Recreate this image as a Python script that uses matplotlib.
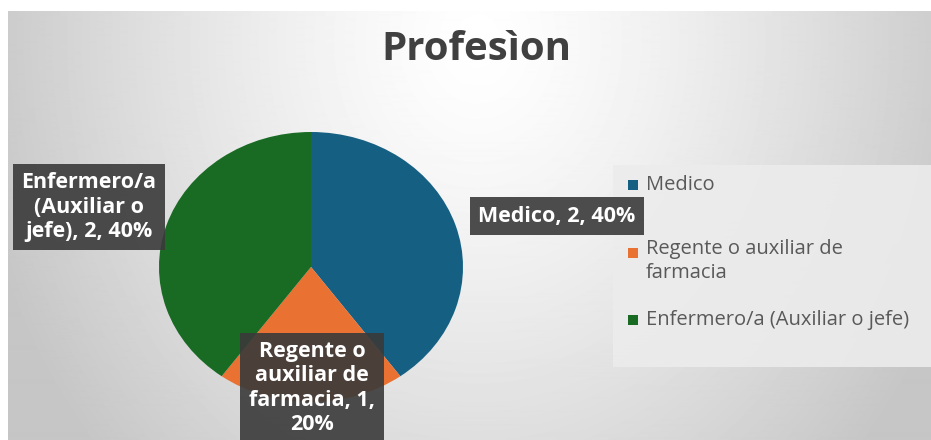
import textwrap
import numpy as np
import matplotlib.pyplot as plt

# data
categories = ['Medico', 'Regente o auxiliar de farmacia', 'Enfermero/a (Auxiliar o jefe)']
values = [2, 1, 2]
colors = ['#156082', '#E97132', '#196B24']
wrap_widths = [40, 12, 13]
title = 'Profesìon'

W, H = 931, 440
fig = plt.figure(figsize=(W / 100, H / 100), dpi=100)
fig.patch.set_facecolor('white')

# background gradient (chart area starts a few px in from top/left)
bg = fig.add_axes([8 / W, 0, 1 - 8 / W, 1 - 11 / H])
yy, xx = np.mgrid[0:429, 0:923]
r = np.sqrt(((xx - 470) / 470.0) ** 2 + ((yy - 30) / 560.0) ** 2)
shade = 1 - 0.2 * np.clip(r, 0, 1.1) ** 1.3
bg.imshow(shade, cmap='gray', vmin=0, vmax=1, aspect='auto', interpolation='bilinear')
bg.axis('off')

# pie (slightly stretched horizontally like the original)
ax = fig.add_axes([159 / W, (H - 402) / H, 304 / W, 270 / H])
wedges, _ = ax.pie(values, colors=colors, startangle=90, counterclock=False,
                   wedgeprops=dict(linewidth=0))
ax.set_aspect('auto')
ax.set_xlim(-1, 1)
ax.set_ylim(-1, 1)

total = sum(values)
label_pos = [(557, 216), (312, 388), (89, 207)]
for cat, v, w, (px, py) in zip(categories, values, wrap_widths, label_pos):
    txt = textwrap.fill(f'{cat}, {v}, {v / total * 100:.0f}%', w)
    fig.text(px / W, 1 - py / H, txt, ha='center', va='center', color='white',
             fontsize=15.5, fontweight='bold', family='Open Sans', linespacing=1.2,
             bbox=dict(boxstyle='square,pad=0.4', fc='#3a3a3a', ec='none', alpha=0.9),
             zorder=10)

# legend panel
leg_ax = fig.add_axes([613 / W, (H - 367) / H, (W - 613) / W, 202 / H])
leg_ax.set_facecolor('#ececec')
leg_ax.set_xticks([])
leg_ax.set_yticks([])
for s in leg_ax.spines.values():
    s.set_visible(False)
leg_ax.patch.set_alpha(0.9)

leg_labels = ['Medico', 'Regente o auxiliar de\nfarmacia', 'Enfermero/a (Auxiliar o jefe)']
leg_y = [185, 253, 320]
for lab, c, ly in zip(leg_labels, colors, leg_y):
    fig.patches.append(plt.Rectangle((628 / W, 1 - (ly + 5) / H), 10 / W, 10 / H,
                                     transform=fig.transFigure, fc=c, ec='none', zorder=5))
    multi = '\n' in lab
    fig.text(646 / W, 1 - (ly - 14) / H if multi else 1 - ly / H, lab, ha='left',
             va='top' if multi else 'center',
             color='#595959', fontsize=14.5, family='Open Sans', linespacing=1.25)

fig.text(476 / W, 1 - 50 / H, title, ha='center', va='center', fontsize=29,
         fontweight='bold', color='#404040', family='Open Sans')

fig.savefig('out.png', dpi=100)
